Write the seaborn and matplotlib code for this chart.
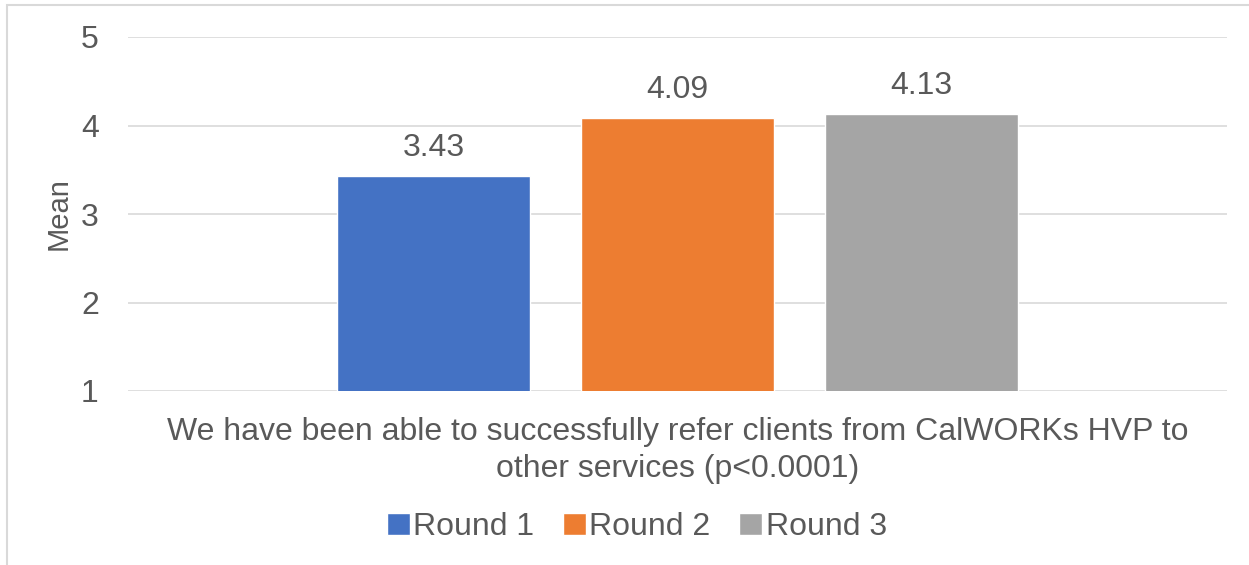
import matplotlib
matplotlib.use("Agg")
import matplotlib.pyplot as plt
import seaborn as sns
import pandas as pd
from matplotlib.patches import Rectangle

# Data
category = ["We have been able to successfully refer clients from CalWORKs HVP to\nother services (p<0.0001)"]
rounds = ["Round 1", "Round 2", "Round 3"]
means = [3.43, 4.09, 4.13]
colors = ["#4472C4", "#ED7D31", "#A5A5A5"]
yticks = [1, 2, 3, 4, 5]

df = pd.DataFrame({"item": category * len(rounds), "round": rounds, "mean": means})

sns.set_theme(style="white")
plt.rcParams["font.family"] = ["Liberation Sans", "DejaVu Sans"]
text_color = "#595959"

W, H = 1249, 565
fig = plt.figure(figsize=(W / 100, H / 100), dpi=100)
fig.patch.set_facecolor("white")

# Chart frame (light border)
fig.add_artist(Rectangle((7 / W, -0.1), 1.2, (1 - 5 / H) + 0.1, transform=fig.transFigure,
                         fill=False, edgecolor="#d9d9d9", linewidth=1.5))

ax = fig.add_axes([128 / W, (H - 391) / H, (1227 - 128) / W, (391 - 37) / H])
sns.barplot(data=df, x="item", y="mean", hue="round", palette=colors,
            width=0.666, gap=0.21, ax=ax, saturation=1, legend=True)

ax.set_ylim(1, 5)
ax.set_xlim(-0.5, 0.5)
ax.set_yticks(yticks)
ax.set_yticklabels([str(t) for t in yticks])
ax.yaxis.grid(True, color="#d9d9d9", linewidth=1.2)
ax.set_axisbelow(True)
for s in ax.spines.values():
    s.set_visible(False)
ax.tick_params(axis="y", length=0, pad=21, labelsize=23, labelcolor=text_color)
ax.tick_params(axis="x", length=0, pad=19, labelsize=23, labelcolor=text_color)
for lbl in ax.get_xticklabels():
    lbl.set_linespacing(1.3)
ax.set_xlabel("")
ax.set_ylabel("Mean", fontsize=21, color=text_color, labelpad=6)

for cont in ax.containers:
    ax.bar_label(cont, fmt="%.2f", padding=9, fontsize=23, color=text_color)

handles, labels = ax.get_legend_handles_labels()
ax.get_legend().remove()
fig.legend(handles, labels, loc="center", bbox_to_anchor=(637 / W, 1 - 527 / H),
           ncol=3, frameon=False, fontsize=23, handlelength=0.7, handleheight=0.7,
           handletextpad=0.12, columnspacing=0.9, labelcolor=text_color)

fig.savefig("out.png", dpi=100, facecolor="white")
